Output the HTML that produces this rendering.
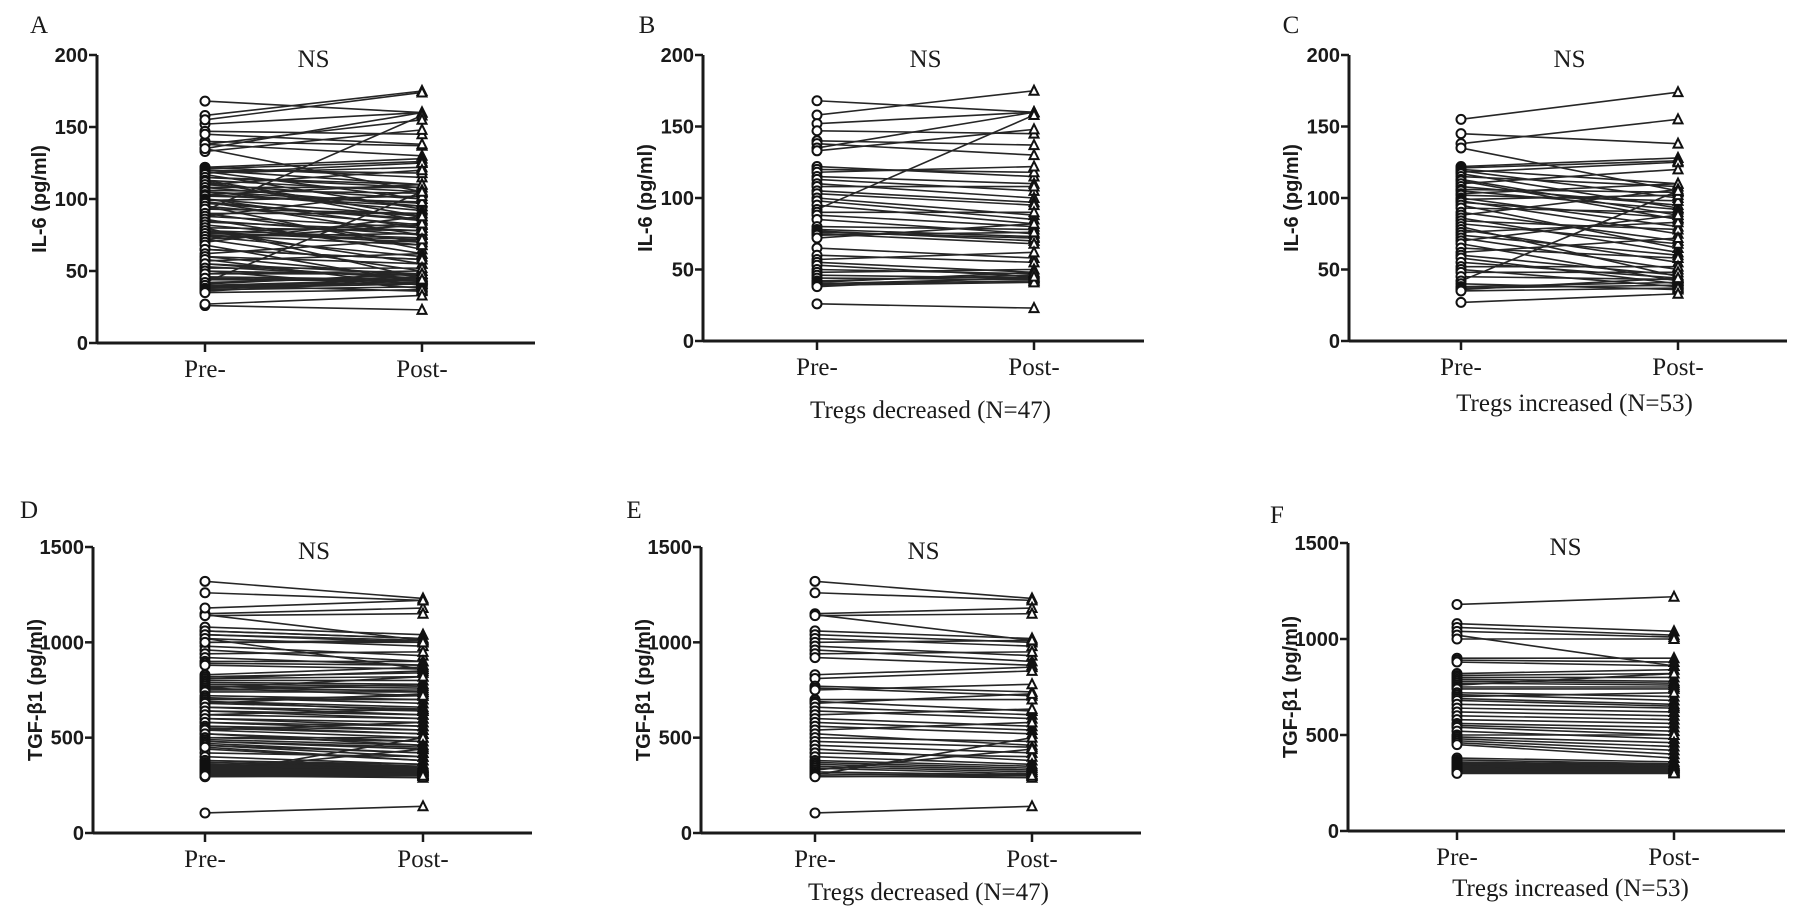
<!DOCTYPE html>
<html><head><meta charset="utf-8"><style>
body{margin:0;background:#fff;}
svg{display:block;}
.tick{font-family:"Liberation Sans",sans-serif;font-weight:bold;font-size:20px;fill:#1a1a1a;}
.ttl{font-family:"Liberation Sans",sans-serif;font-weight:bold;font-size:20px;fill:#1a1a1a;}
.ser{font-family:"Liberation Serif",serif;font-size:25px;fill:#1a1a1a;}
</style></head><body>
<svg id="fig" width="1795" height="920" viewBox="0 0 1795 920"></svg>
<script>
const categories = ["Pre-","Post-"];
const il6Ticks = [0,50,100,150,200];
const tgfTicks = [0,500,1000,1500];
const il6DecPre = [168,158,152,147,140,138,135,133,122,120,118,115,113,110,108,105,103,100,98,95,92,90,88,85,80,78,77,76,75,74,72,65,60,57,55,53,50,48,46,44,42,41,40,40,39,38,26];
const il6DecPost = [160,175,160,145,137,130,160,148,115,118,122,110,105,100,108,97,95,88,85,82,158,90,80,75,78,73,70,72,68,76,82,58,55,62,48,45,47,50,44,43,46,48,42,44,41,45,23];
const il6IncPre = [155,145,138,135,122,121,120,119,118,117,115,113,112,110,108,106,105,103,102,100,99,98,97,95,93,90,88,86,84,82,80,78,76,74,72,70,68,65,62,60,58,55,52,50,48,45,42,40,38,37,36,35,27];
const il6IncPost = [174,138,155,105,128,126,110,100,125,93,108,88,85,120,95,104,92,110,98,80,102,75,86,65,90,70,106,62,78,68,45,55,83,60,50,88,42,58,72,46,40,44,52,38,48,43,105,36,41,39,44,37,33];
const tgfDecPre = [1320,1260,1150,1145,1140,1060,1040,1020,1000,980,960,940,920,830,810,770,760,750,700,690,680,660,640,620,600,580,560,540,520,500,480,460,440,420,400,380,370,360,350,340,330,320,310,305,300,295,105];
const tgfDecPost = [1230,1220,1180,1010,1150,1020,1000,980,1010,930,900,950,880,870,850,740,720,780,700,640,730,620,600,650,560,540,520,580,460,480,450,420,380,400,360,350,340,330,320,310,440,305,300,500,290,300,140];
const tgfIncPre = [1180,1080,1060,1040,1020,1000,900,890,880,820,810,800,790,780,770,760,750,740,720,710,700,690,680,660,640,620,600,580,560,550,540,520,500,490,480,470,460,450,380,370,360,355,350,345,340,335,330,325,320,315,310,305,300];
const tgfIncPost = [1220,1040,1020,1010,860,1000,900,880,860,840,820,800,780,770,760,820,750,740,700,680,720,660,650,640,620,600,580,560,540,520,500,480,500,460,440,420,400,380,360,350,345,340,340,335,330,330,325,320,315,310,310,305,300];

const NS="http://www.w3.org/2000/svg";
const svg=document.getElementById('fig');
function mk(tag,attrs,parent,text){const e=document.createElementNS(NS,tag);for(const k in attrs)e.setAttribute(k,attrs[k]);if(text!==undefined)e.textContent=text;(parent||svg).appendChild(e);return e;}

const panels=[
 {id:'a',letter:'A',ax:97,top:55,bot:343,pre:205,post:422,end:535,max:200,ticks:il6Ticks,title:'IL-6 (pg/ml)',pre_:il6DecPre.concat(il6IncPre),post_:il6DecPost.concat(il6IncPost),ly:25,lx:39,xl:null},
 {id:'b',letter:'B',ax:703,top:55,bot:341,pre:817,post:1034,end:1144,max:200,ticks:il6Ticks,title:'IL-6 (pg/ml)',pre_:il6DecPre,post_:il6DecPost,ly:25,lx:647,xl:'Tregs decreased (N=47)',xly:410},
 {id:'c',letter:'C',ax:1349,top:55,bot:341,pre:1461,post:1678,end:1787,max:200,ticks:il6Ticks,title:'IL-6 (pg/ml)',pre_:il6IncPre,post_:il6IncPost,ly:25,lx:1291,xl:'Tregs increased (N=53)',xly:403},
 {id:'d',letter:'D',ax:93,top:547,bot:833,pre:205,post:423,end:532,max:1500,ticks:tgfTicks,title:'TGF-β1 (pg/ml)',pre_:tgfDecPre.concat(tgfIncPre),post_:tgfDecPost.concat(tgfIncPost),ly:510,lx:29,xl:null},
 {id:'e',letter:'E',ax:701,top:547,bot:833,pre:815,post:1032,end:1141,max:1500,ticks:tgfTicks,title:'TGF-β1 (pg/ml)',pre_:tgfDecPre,post_:tgfDecPost,ly:510,lx:634,xl:'Tregs decreased (N=47)',xly:892},
 {id:'f',letter:'F',ax:1348,top:543,bot:831,pre:1457,post:1674,end:1785,max:1500,ticks:tgfTicks,title:'TGF-β1 (pg/ml)',pre_:tgfIncPre,post_:tgfIncPost,ly:515,lx:1277,xl:'Tregs increased (N=53)',xly:888}
];

panels.forEach(p=>{
 const g=mk('g',{});
 
 
 const y=v=>p.bot-(v/p.max)*(p.bot-p.top);
 const xs=[p.pre,p.post];
 const lt=mk('text',{x:p.lx,y:p.ly+8,'text-anchor':'middle',class:'ser'},g,p.letter);
 
 
 const ns=mk('text',{x:(p.pre+p.post)/2,y:p.top+12,'text-anchor':'middle',class:'ser'},g,'NS');
 
 
 const lg=mk('g',{},g);
 
 
 for(let i=0;i<p.pre_.length;i++){
  const l=mk('line',{x1:xs[0],y1:y(p.pre_[i]),x2:xs[1],y2:y(p.post_[i]),stroke:'#262626','stroke-width':1.6},lg);
  
  
 }
 for(let i=0;i<p.pre_.length;i++){
  const c=mk('circle',{cx:xs[0],cy:y(p.pre_[i]),r:4.5,fill:'#fff',stroke:'#111','stroke-width':2},lg);
  
  
  const ty=y(p.post_[i]),tx=xs[1];
  const t=mk('polygon',{points:`${tx},${ty-5} ${tx-4.5},${ty+4} ${tx+4.5},${ty+4}`,fill:'#fff',stroke:'#111','stroke-width':2},lg);
  
  
 }
 const ya=mk('line',{x1:p.ax,y1:p.top,x2:p.ax,y2:p.bot,stroke:'#1a1a1a','stroke-width':3},g);
 
 
 const xa=mk('line',{x1:p.ax,y1:p.bot,x2:p.end,y2:p.bot,stroke:'#1a1a1a','stroke-width':3},g);
 
 
 p.ticks.forEach(t=>{
  mk('line',{x1:p.ax-8,y1:y(t),x2:p.ax,y2:y(t),stroke:'#1a1a1a','stroke-width':2.5},g);
  const tl=mk('text',{x:p.ax-9,y:y(t)+7,'text-anchor':'end',class:'tick'},g,String(t));
  
  
 });
 categories.forEach((c,i)=>{
  mk('line',{x1:xs[i],y1:p.bot,x2:xs[i],y2:p.bot+9,stroke:'#1a1a1a','stroke-width':2.5},g);
  const cl=mk('text',{x:xs[i],y:p.bot+34,'text-anchor':'middle',class:'ser'},g,c);
  
  
 });
 const cy=(p.top+p.bot)/2, cx=p.ax-58;
 const yt=mk('text',{x:cx,y:cy,'text-anchor':'middle',class:'ttl',transform:`rotate(-90 ${cx} ${cy})`,dy:7},g,p.title);
 
 
 if(p.xl){
  const xt=mk('text',{x:(p.pre+p.post)/2+5,y:p.xly+8,'text-anchor':'middle',class:'ser'},g,p.xl);
  
  
 }
});
</script>
</body></html>
